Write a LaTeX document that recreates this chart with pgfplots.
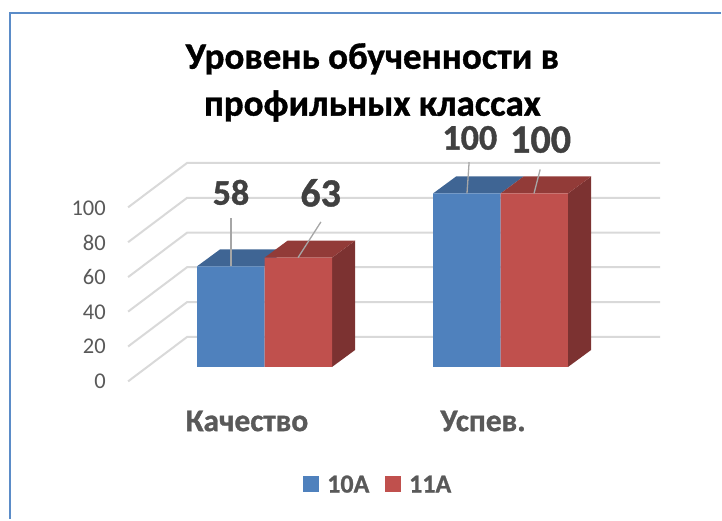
\documentclass[border=0pt]{standalone}
\usepackage{pgfplots}
\pgfplotsset{compat=1.18}
\usepackage{fontspec}
\setmainfont[BoldFeatures={FakeBold=1}]{Carlito}
\definecolor{blueF}{HTML}{4F81BD}
\definecolor{blueT}{HTML}{3F6594}
\definecolor{redF}{HTML}{C0504D}
\definecolor{redT}{HTML}{923B38}
\definecolor{redS}{HTML}{7C3231}
\definecolor{gridc}{HTML}{D9D9D9}
\definecolor{txt}{HTML}{595959}
\definecolor{lab}{HTML}{404040}
\definecolor{frame}{HTML}{5B8CC8}
\begin{document}
\begin{tikzpicture}[x=1pt,y=1pt]
\begin{axis}[
  scale only axis, width=722pt, height=520pt,
  xmin=-1.1208, xmax=1.9386, ymin=-88.2, ymax=211.5,
  axis line style={draw=none}, major tick style={draw=none},
  xtick={-0.074,0.926}, xticklabels={Качество,Успев.},
  xticklabel style={font=\fontsize{31.5}{31.5}\selectfont\bfseries, text=txt, yshift=99pt, inner sep=0pt, anchor=center},
  ytick={-8,11.9,31.8,51.8,71.7,91.7}, yticklabels={0,20,40,60,80,100},
  yticklabel style={font=\fontsize{22.5}{22.5}\selectfont, text=txt, xshift=106pt, inner sep=0pt, anchor=east},
  /pgf/number format/assume math mode=true,
  clip=false,
]
% grid
\pgfplotsinvokeforeach{17.3,37.4,57.5,77.4,97.5,117.6}{
  \addplot[gridc, line width=2pt, forget plot] coordinates {(-0.578,#1-25.6) (-0.328,#1) (1.676,#1)};
}
% bars
\addplot[fill=blueT, draw=none, forget plot] coordinates {(-0.286,58) (-0.188,67.8) (0.098,67.8) (0,58)} --cycle;
\addplot[fill=blueT, draw=none, forget plot] coordinates {(0.714,100) (0.812,109.8) (1.098,109.8) (1,100)} --cycle;
\addplot[ybar, bar width=0.286, bar shift=-0.143, fill=blueF, draw=none] coordinates {(0,58) (1,100)};
\addplot[fill=redS, draw=none, forget plot] coordinates {(0.286,0) (0.384,9.8) (0.384,72.8) (0.286,63)} --cycle;
\addplot[fill=redT, draw=none, forget plot] coordinates {(0,63) (0.098,72.8) (0.384,72.8) (0.286,63)} --cycle;
\addplot[fill=redS, draw=none, forget plot] coordinates {(1.286,0) (1.384,9.8) (1.384,109.8) (1.286,100)} --cycle;
\addplot[fill=redT, draw=none, forget plot] coordinates {(1,100) (1.098,109.8) (1.384,109.8) (1.286,100)} --cycle;
\addplot[ybar, bar width=0.286, bar shift=0.143, fill=redF, draw=none] coordinates {(0,63) (1,100)};
% leaders
\addplot[color=black!35, line width=1.3pt, forget plot] coordinates {(-0.142,58) (-0.142,86)};
\addplot[color=black!35, line width=1.3pt, forget plot] coordinates {(0.142,63) (0.239,83.6)};
\addplot[color=black!35, line width=1.3pt, forget plot] coordinates {(0.858,100) (0.867,118)};
\addplot[color=black!35, line width=1.3pt, forget plot] coordinates {(1.142,100) (1.168,113.8)};
% labels
\node[font=\fontsize{36}{36}\selectfont\bfseries, text=lab, inner sep=0pt] at (axis cs:-0.142,100.6) {58};
\node[font=\fontsize{40}{40}\selectfont\bfseries, text=lab, inner sep=0pt] at (axis cs:0.238,100.3) {63};
\node[font=\fontsize{36}{36}\selectfont\bfseries, text=lab, inner sep=0pt] at (axis cs:0.87,132) {100};
\node[font=\fontsize{40}{40}\selectfont\bfseries, text=lab, inner sep=0pt] at (axis cs:1.17,131) {100};
% title
\node[font=\fontsize{37}{47}\selectfont\bfseries, align=center, inner sep=0pt, text=black] at (axis cs:0.457,164) {Уровень обученности в\\профильных классах};
% frame
\addplot[frame, line width=2pt, forget plot] coordinates {(-1.078,-87.6) (-1.078,204.2) (1.934,204.2)};
% legend
\addplot[only marks, mark=square*, mark size=7.5pt, mark options={fill=blueF, draw=blueF, line width=0pt}, forget plot] coordinates {(0.198,-67.5)};
\addplot[only marks, mark=square*, mark size=7.5pt, mark options={fill=redF, draw=redF, line width=0pt}, forget plot] coordinates {(0.545,-67.5)};
\node[font=\fontsize{26}{26}\selectfont\bfseries, text=txt, anchor=west, inner sep=0pt] at (axis cs:0.265,-67.5) {10A};
\node[font=\fontsize{26}{26}\selectfont\bfseries, text=txt, anchor=west, inner sep=0pt] at (axis cs:0.612,-67.5) {11A};
\end{axis}
\end{tikzpicture}
\end{document}
